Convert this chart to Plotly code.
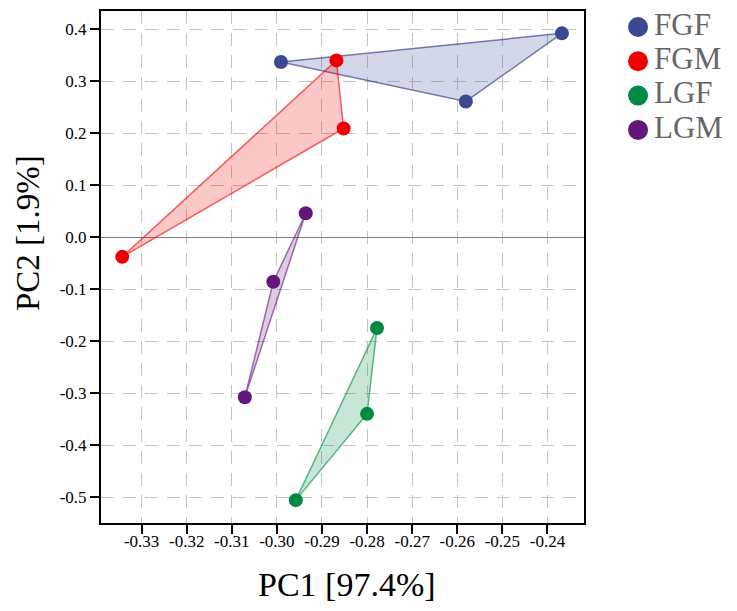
import plotly.graph_objects as go

groups = ["FGF", "FGM", "LGF", "LGM"]
colors = ["#3B4992", "#EE0000", "#008B45", "#631879"]
fills = ["rgba(59,73,146,0.22)", "rgba(238,0,0,0.22)", "rgba(0,139,69,0.22)", "rgba(99,24,121,0.22)"]
edges = ["rgba(59,73,146,0.7)", "rgba(238,0,0,0.6)", "rgba(0,139,69,0.6)", "rgba(99,24,121,0.6)"]

pc1 = {
    "FGF": [-0.2991, -0.2368, -0.2581],
    "FGM": [-0.2868, -0.2852, -0.3343],
    "LGF": [-0.2958, -0.2778, -0.2800],
    "LGM": [-0.2936, -0.3008, -0.3071],
}
pc2 = {
    "FGF": [0.337, 0.392, 0.261],
    "FGM": [0.340, 0.209, -0.038],
    "LGF": [-0.506, -0.175, -0.340],
    "LGM": [0.046, -0.086, -0.308],
}

xticks = [-0.33, -0.32, -0.31, -0.30, -0.29, -0.28, -0.27, -0.26, -0.25, -0.24]
xlabels = ["-0.33", "-0.32", "-0.31", "-0.30", "-0.29", "-0.28", "-0.27", "-0.26", "-0.25", "-0.24"]
yticks = [0.4, 0.3, 0.2, 0.1, 0.0, -0.1, -0.2, -0.3, -0.4, -0.5]
ylabels = ["0.4", "0.3", "0.2", "0.1", "0.0", "-0.1", "-0.2", "-0.3", "-0.4", "-0.5"]

font_family = "Liberation Serif"

fig = go.Figure()

# hulls first, so the dots sit on top
for g, e, f in zip(groups, edges, fills):
    xs = pc1[g] + pc1[g][:1]
    ys = pc2[g] + pc2[g][:1]
    fig.add_trace(go.Scatter(
        x=xs, y=ys, mode="lines", fill="toself", fillcolor=f,
        line=dict(color=e, width=1.5), showlegend=False,
        hoverinfo="skip"
    ))

for g, c in zip(groups, colors):
    fig.add_trace(go.Scatter(
        x=pc1[g], y=pc2[g], mode="markers", name=g,
        marker=dict(color=c, size=14), showlegend=False
    ))

# legend drawn on its own little axes (native legend spacing is too loose)
rows = list(range(len(groups)))
fig.add_trace(go.Scatter(
    x=[0] * len(groups), y=rows, mode="markers",
    marker=dict(color=colors, size=20),
    xaxis="x2", yaxis="y2", showlegend=False, hoverinfo="skip"
))
fig.add_trace(go.Scatter(
    x=[0.8] * len(groups), y=rows, mode="text", text=groups,
    textposition="middle right",
    textfont=dict(family=font_family, size=31, color="#666666"),
    xaxis="x2", yaxis="y2", showlegend=False, hoverinfo="skip"
))

fig.update_layout(
    xaxis=dict(
        domain=[0, 0.76911],
        range=[-0.3390, -0.2319],
        tickvals=xticks, ticktext=xlabels,
        showgrid=True, gridcolor="#c4c4c4", griddash="13px,9px", gridwidth=1,
        zeroline=False,
        showline=True, linecolor="black", linewidth=2, mirror=True,
        ticks="outside", ticklen=9, tickcolor="black", tickwidth=1.5,
        ticklabelstandoff=-7,
        tickfont=dict(family=font_family, size=17, color="black"),
        automargin=False,
    ),
    yaxis=dict(
        domain=[0, 0.99417],
        range=[-0.550, 0.435],
        tickvals=yticks, ticktext=ylabels,
        showgrid=True, gridcolor="#c4c4c4", griddash="13px,9px", gridwidth=1,
        zeroline=True, zerolinecolor="#808080", zerolinewidth=1.3,
        showline=True, linecolor="black", linewidth=2, mirror=True,
        ticks="outside", ticklen=9, tickcolor="black", tickwidth=1.5,
        tickfont=dict(family=font_family, size=17, color="black"),
        automargin=False,
    ),
    xaxis2=dict(domain=[0.78, 1], range=[-2.36, 4.548], visible=False, fixedrange=True),
    yaxis2=dict(domain=[0.6, 1], range=[5.452, -0.554], visible=False, fixedrange=True),
    annotations=[
        dict(text="PC1 [97.4%]", xref="paper", yref="paper", x=0.3912, y=-0.1198,
             xanchor="center", yanchor="middle", showarrow=False,
             font=dict(family=font_family, size=34, color="black")),
        dict(text="PC2 [1.9%]", xref="paper", yref="paper", x=-0.1162, y=0.5631,
             xanchor="center", yanchor="middle", showarrow=False, textangle=-90,
             font=dict(family=font_family, size=33, color="black")),
    ],
    width=721, height=595,
    margin=dict(l=93, r=0, t=0, b=80, autoexpand=False),
    plot_bgcolor="white", paper_bgcolor="white",
    showlegend=False,
)

fig.write_html("out.html")
